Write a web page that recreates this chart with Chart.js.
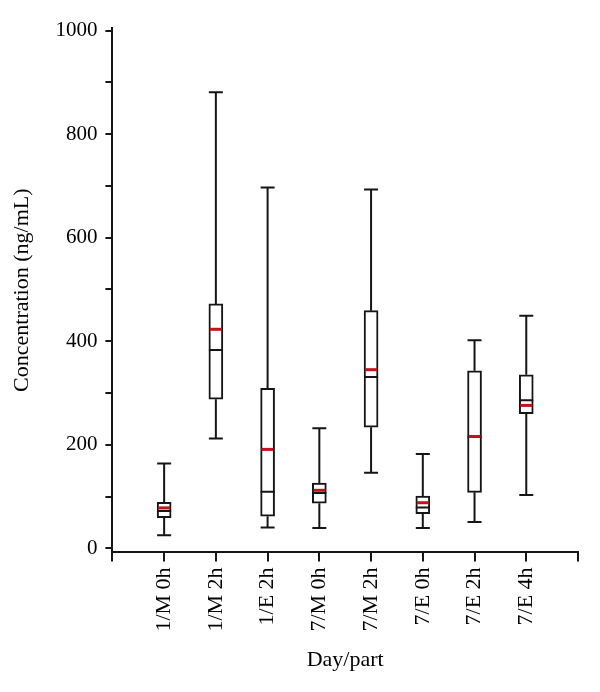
<!DOCTYPE html>
<html>
<head>
<meta charset="utf-8">
<script src="https://cdn.jsdelivr.net/npm/chart.js@4.4.1/dist/chart.umd.min.js"></script>
<style>
  body { margin: 0; background: #fff; }
  #wrap { width: 600px; height: 692px; }
</style>
</head>
<body>
<div id="wrap"><canvas id="graph"></canvas></div>
<script>
// day/part groups
const categories = ['1/M 0h', '1/M 2h', '1/E 2h', '7/M 0h', '7/M 2h', '7/E 0h', '7/E 2h', '7/E 4h'];
// box plot values (ng/mL)
const minValues    = [25, 212, 40, 39, 146, 39, 51, 103];
const q1Values     = [59, 288, 62, 87, 234, 67, 108, 260];
const medianValues = [72, 383, 109, 107, 331, 79, 215, 286];
const meanValues   = [78, 423, 191, 112, 345, 88, 216, 276];
const q3Values     = [89, 472, 309, 126, 459, 101, 343, 335];
const maxValues    = [164, 881, 697, 232, 693, 182, 402, 449];
const yTicks = [0, 100, 200, 300, 400, 500, 600, 700, 800, 900, 1000];

Chart.defaults.font.family = "'Liberation Serif', 'DejaVu Serif', serif";
Chart.defaults.font.size = 22;
Chart.defaults.color = '#000';

// empty slot at each end so the groups sit on ticks 1..8
const labels = [''].concat(categories, ['']);
const boxes = [null].concat(categories.map((c, i) => [q1Values[i], q3Values[i]]), [null]);

const whiskers = {
  id: 'whiskers',
  afterDatasetsDraw(chart) {
    const ctx = chart.ctx;
    const y = chart.scales.y;
    const meta = chart.getDatasetMeta(0);
    ctx.save();
    categories.forEach((c, i) => {
      const bar = meta.data[i + 1];
      const cx = bar.x;
      const half = bar.width / 2;
      ctx.strokeStyle = '#151515';
      ctx.lineWidth = 2;
      ctx.beginPath();
      // upper whisker + cap
      ctx.moveTo(cx, y.getPixelForValue(q3Values[i]));
      ctx.lineTo(cx, y.getPixelForValue(maxValues[i]));
      ctx.moveTo(cx - half, y.getPixelForValue(maxValues[i]));
      ctx.lineTo(cx + half, y.getPixelForValue(maxValues[i]));
      // lower whisker + cap
      ctx.moveTo(cx, y.getPixelForValue(q1Values[i]));
      ctx.lineTo(cx, y.getPixelForValue(minValues[i]));
      ctx.moveTo(cx - half, y.getPixelForValue(minValues[i]));
      ctx.lineTo(cx + half, y.getPixelForValue(minValues[i]));
      // median
      ctx.moveTo(cx - half, y.getPixelForValue(medianValues[i]));
      ctx.lineTo(cx + half, y.getPixelForValue(medianValues[i]));
      ctx.stroke();
      // mean in red
      ctx.strokeStyle = '#c3121c';
      ctx.lineWidth = 3;
      ctx.beginPath();
      ctx.moveTo(cx - half + 1, y.getPixelForValue(meanValues[i]));
      ctx.lineTo(cx + half - 1, y.getPixelForValue(meanValues[i]));
      ctx.stroke();
    });
    ctx.restore();
  }
};

new Chart(document.getElementById('graph'), {
  type: 'bar',
  data: {
    labels: labels,
    datasets: [{
      data: boxes,
      backgroundColor: '#fff',
      borderColor: '#151515',
      borderWidth: 2,
      borderSkipped: false,
      barThickness: 14
    }]
  },
  options: {
    responsive: true,
    maintainAspectRatio: false,
    animation: false,
    layout: { padding: { top: 28, right: 22, left: 9, bottom: 19 } },
    plugins: { legend: { display: false }, tooltip: { enabled: false } },
    scales: {
      x: {
        offset: false,
        // the end slots are blank, so no room is needed for them
        afterFit: (scale) => { scale.paddingLeft = 0; scale.paddingRight = 0; },
        grid: { offset: false, drawOnChartArea: false, tickLength: 9, tickColor: '#151515', lineWidth: 2 },
        border: { color: '#151515', width: 2 },
        ticks: { minRotation: 90, maxRotation: 90, autoSkip: false, padding: 6 },
        title: { display: true, text: 'Day/part', padding: { top: 9, bottom: 0 } }
      },
      y: {
        min: -8,
        max: 1005,
        afterBuildTicks: (axis) => { axis.ticks = yTicks.map(v => ({ value: v })); },
        grid: { drawOnChartArea: false, tickLength: 7, tickColor: '#151515', lineWidth: 2 },
        border: { color: '#151515', width: 2 },
        ticks: {
          padding: 8,
          font: { size: 21 },
          callback: (v) => (v % 200 === 0 ? v : '')
        },
        title: { display: true, text: 'Concentration (ng/mL)', padding: { top: 0, bottom: 12 } }
      }
    }
  },
  plugins: [whiskers]
});
</script>
</body>
</html>
